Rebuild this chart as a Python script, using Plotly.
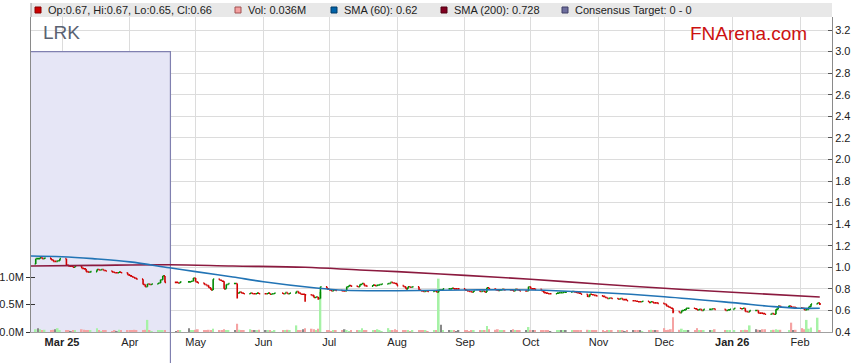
import pandas as pd
import plotly.graph_objects as go

# ---------------- data ----------------
first_open = 1.03
closes = [
    1.08, 1.08, 1.09, 1.08, 1.085,      # Feb 17
    1.07, 1.055, 1.055, 1.06, 1.08,     # Feb 24
    1.02, 1.01, 1.01, 1.00, 1.01,       # Mar 3
    0.99, 0.985, 0.96, 0.955, 0.96,     # Mar 10
    0.98, 0.975, 0.98, 0.97, 0.965,     # Mar 17
    0.955, 0.95, 0.95, 0.955, 0.95,     # Mar 24
    0.93, 0.92, 0.91, 0.90, 0.89,       # Mar 31
    0.84, 0.82, 0.845, 0.84, 0.845,     # Apr 7
    0.855, 0.885, 0.92, 0.86,           # Apr 14
    0.86, 0.855, 0.865,                 # Apr 21
    0.865, 0.87, 0.90, 0.865, 0.855,    # Apr 28
    0.84, 0.83, 0.81, 0.79, 0.89,       # May 5
    0.88, 0.87, 0.80, 0.84, 0.85,       # May 12
    0.85, 0.76, 0.77, 0.76, 0.755,      # May 19
    0.76, 0.755, 0.755, 0.76, 0.755,    # May 26
    0.755, 0.76, 0.75, 0.755, 0.76,     # Jun 2
    0.755, 0.765, 0.755, 0.76,          # Jun 9
    0.775, 0.76, 0.75, 0.75, 0.745,     # Jun 16
    0.74, 0.72, 0.725, 0.71, 0.82,      # Jun 23
    0.80, 0.79, 0.78, 0.79, 0.785,      # Jun 30
    0.78, 0.78, 0.82, 0.83, 0.825,      # Jul 7
    0.82, 0.84, 0.85, 0.83, 0.825,      # Jul 14
    0.835, 0.83, 0.835, 0.84, 0.845,    # Jul 21
    0.85, 0.86, 0.855, 0.85, 0.83,      # Jul 28
    0.82, 0.80, 0.82, 0.815, 0.82,      # Aug 4
    0.79, 0.78, 0.775, 0.78, 0.775,     # Aug 11
    0.78, 0.77, 0.79, 0.79, 0.80,       # Aug 18
    0.80, 0.805, 0.80, 0.80, 0.80,      # Aug 25
    0.79, 0.78, 0.775, 0.77, 0.78,      # Sep 1
    0.775, 0.78, 0.77, 0.81, 0.80,      # Sep 8
    0.79, 0.785, 0.79, 0.795, 0.79,     # Sep 15
    0.79, 0.78, 0.795, 0.79, 0.78,      # Sep 22
    0.78, 0.82, 0.80, 0.80, 0.795,      # Sep 29
    0.78, 0.765, 0.76, 0.755, 0.755,    # Oct 6
    0.76, 0.765, 0.765, 0.77, 0.77,     # Oct 13
    0.775, 0.77, 0.765, 0.76, 0.75,     # Oct 20
    0.73, 0.75, 0.745, 0.74, 0.735,     # Oct 27
    0.73, 0.72, 0.71, 0.715, 0.71,      # Nov 3
    0.705, 0.71, 0.70, 0.70, 0.69,      # Nov 10
    0.69, 0.685, 0.68, 0.68, 0.685,     # Nov 17
    0.675, 0.68, 0.67, 0.67, 0.665,     # Nov 24
    0.66, 0.64, 0.63, 0.62, 0.59,       # Dec 1
    0.58, 0.60, 0.605, 0.62, 0.62,      # Dec 8
    0.615, 0.605, 0.61, 0.60, 0.61,     # Dec 15
    0.61, 0.615, 0.61,                  # Dec 22
    0.60, 0.605, 0.61, 0.62,            # Dec 29
    0.615, 0.62, 0.59, 0.585, 0.60,     # Jan 5
    0.60, 0.575, 0.575, 0.57, 0.565,    # Jan 12
    0.57, 0.565, 0.61, 0.64, 0.635,     # Jan 19
    0.64, 0.63, 0.63, 0.625,            # Jan 26
    0.62, 0.605, 0.61, 0.635, 0.66,     # Feb 2
    0.67, 0.66,                         # Feb 9
]
volumes_m = [
    .05, .07, .05, .03, .04,
    .03, .04, .05, .07, .03,
    .02, .02, .015, .02, .02,
    .05, .04, .03, .02, .02,
    .07, .02, .015, .02, .02,
    .015, .02, .015, .04, .02,
    .02, .03, .02, .04, .035,
    .03, .04, .22, .02, .015,
    .02, .03, .035, .02,
    .015, .02, .02,
    .07, .02, .03, .04, .05,
    .03, .02, .04, .02, .06,
    .03, .02, .05, .02, .03,
    .02, .15, .04, .03, .02,
    .05, .02, .03, .02, .04,
    .02, .03, .02, .015, .02,
    .02, .03, .04, .02,
    .12, .03, .02, .05, .07,
    .06, .05, .03, .06, .73,
    .03, .02, .015, .02, .02,
    .02, .05, .02, .015, .02,
    .02, .02, .07, .02, .02,
    .02, .03, .05, .02, .015,
    .07, .03, .02, .05, .02,
    .02, .02, .02, .015, .02,
    .03, .03, .02, .02, .015,
    .02, .02, .97, .13, .02,
    .03, .02, .02, .015, .02,
    .02, .02, .015, .02, .02,
    .03, .02, .02, .11, .05,
    .04, .05, .03, .02, .02,
    .02, .05, .02, .02, .03,
    .02, .09, .02, .02, .02,
    .02, .03, .02, .02, .015,
    .03, .02, .02, .02, .03,
    .03, .02, .02, .02, .03,
    .04, .03, .02, .02, .02,
    .02, .015, .02, .03, .02,
    .02, .02, .02, .015, .02,
    .02, .03, .02, .02, .015,
    .03, .04, .02, .02, .02,
    .07, .03, .04, .05, .27,
    .04, .06, .03, .02, .02,
    .02, .07, .02, .02, .03,
    .02, .03, .05,
    .02, .03, .02, .02,
    .02, .03, .04, .03, .12,
    .05, .04, .03, .05, .05,
    .03, .04, .05, .04, .04,
    .03, .17, .03, .04,
    .07, .05, .22, .06, .08,
    .26, .036,
]
holidays = ["2025-04-18", "2025-04-21", "2025-04-25", "2025-06-09",
            "2025-12-25", "2025-12-26", "2026-01-01", "2026-01-26"]
wick_lows = {"2025-05-20": 0.71, "2025-06-20": 0.68, "2025-06-26": 0.70,
             "2025-10-27": 0.725, "2025-12-05": 0.575, "2026-02-10": 0.65}

sma60_dates = ["2025-02-14", "2025-03-01", "2025-03-15", "2025-04-01", "2025-04-19",
               "2025-05-01", "2025-05-18", "2025-06-01", "2025-06-24", "2025-07-08",
               "2025-08-01", "2025-09-01", "2025-10-01", "2025-11-01", "2025-12-01",
               "2026-01-01", "2026-01-20", "2026-02-01", "2026-02-10"]
sma60 = [1.105, 1.098, 1.08, 1.05, 0.995, 0.96, 0.91, 0.866, 0.81, 0.787,
         0.783, 0.79, 0.79, 0.766, 0.727, 0.672, 0.635, 0.62, 0.62]

sma200_dates = ["2025-02-14", "2025-03-15", "2025-04-19", "2025-05-18", "2025-06-20",
                "2025-07-15", "2025-08-01", "2025-09-01", "2025-10-01", "2025-11-01",
                "2025-12-01", "2026-01-01", "2026-02-10"]
sma200 = [1.012, 1.018, 1.024, 1.012, 1.0, 0.975, 0.96, 0.925, 0.889, 0.845,
          0.805, 0.768, 0.725]

consensus_x = ["2025-02-14 20:00", "2025-04-19 12:00", "2025-04-19 12:00"]
consensus_y = [3.0, 3.0, 0.0]

month_ticks = ["2025-03-01", "2025-04-01", "2025-05-01", "2025-06-01", "2025-07-01",
               "2025-08-01", "2025-09-01", "2025-10-01", "2025-11-01", "2025-12-01",
               "2026-01-01", "2026-02-01"]
month_labels = ["<b>Mar 25</b>", "Apr", "May", "Jun", "Jul", "Aug", "Sep", "Oct",
                "Nov", "Dec", "<b>Jan 26</b>", "Feb"]
price_ticks = [round(0.4 + 0.2 * i, 1) for i in range(15)]
vol_ticks = [0, 0.5e6, 1.0e6]
vol_labels = ["0.0M", "0.5M", "1.0M"]

legend_items = [
    ("Op:0.67, Hi:0.67, Lo:0.65, Cl:0.66", "#CC0000", "#880000", 47),
    ("Vol: 0.036M", "#F4A0A0", "#A05050", 247),
    ("SMA (60): 0.62", "#0062A8", "#003A66", 343),
    ("SMA (200): 0.728", "#800020", "#500010", 453),
    ("Consensus Target: 0 - 0", "#6E6E9E", "#3E3E66", 574),
]

# ---------------- build ----------------
dates = [d for d in pd.bdate_range("2025-02-17", "2026-02-10")
         if d.strftime("%Y-%m-%d") not in holidays]
n = min(len(dates), len(closes), len(volumes_m))
dates = dates[:n]
closes = closes[:n]
volumes = [v * 1e6 for v in volumes_m[:n]]
opens = [first_open] + closes[:-1]
highs = [max(o, c) for o, c in zip(opens, closes)]
lows = []
for d, o, c in zip(dates, opens, closes):
    lows.append(wick_lows.get(d.strftime("%Y-%m-%d"), min(o, c)))

vol_colors = []
for o, c in zip(opens, closes):
    if c > o + 1e-9:
        vol_colors.append("#A6F2A6")
    elif c < o - 1e-9:
        vol_colors.append("#F5A3A3")
    else:
        vol_colors.append("#888888")

H_PLOT = 315.0
PRICE_RANGE = [0.4, 0.4 + H_PLOT * 0.2 / 21.57]
VOL_RANGE = [0, H_PLOT / 55.0 * 1e6]

fig = go.Figure()
# main price axis (y): consensus band under everything
fig.add_trace(go.Scatter(x=consensus_x, y=consensus_y, mode="lines", fill="tozeroy",
                         fillcolor="#E6E6F6", line=dict(color="#8080B0", width=1.2),
                         hoverinfo="skip"))
# volume (y2)
fig.add_trace(go.Bar(x=dates, y=volumes, yaxis="y2", marker_color=vol_colors,
                     marker_line_width=0, width=86400000 * 0.8, hoverinfo="skip"))
# inside tick helper (y3)
fig.add_trace(go.Scatter(x=[dates[0]], y=[0], yaxis="y3", mode="markers",
                         marker=dict(opacity=0), hoverinfo="skip"))
# price overlay (y4): candles and SMAs above the band
fig.add_trace(go.Ohlc(x=dates, open=opens, high=highs, low=lows, close=closes,
                      yaxis="y4",
                      increasing=dict(line=dict(color="#008A00", width=1.6)),
                      decreasing=dict(line=dict(color="#D00000", width=1.6)),
                      tickwidth=0.5, hoverinfo="skip"))
fig.add_trace(go.Scatter(x=sma200_dates, y=sma200, mode="lines", yaxis="y4",
                         line=dict(color="#8B1A3F", width=1.6, shape="spline"),
                         hoverinfo="skip"))
fig.add_trace(go.Scatter(x=sma60_dates, y=sma60, mode="lines", yaxis="y4",
                         line=dict(color="#2274B5", width=1.6, shape="spline"),
                         hoverinfo="skip"))


def py(pix):
    return (332 - pix) / H_PLOT


def px(pix):
    return (pix - 31) / 801.0


shapes = [
    dict(type="rect", xref="paper", yref="paper", x0=0, x1=1, y0=py(17), y1=py(3),
         fillcolor="#E8E8E8", line=dict(width=0), layer="above"),
    dict(type="line", xref="paper", yref="paper", x0=0, x1=0, y0=py(17), y1=py(3),
         line=dict(color="#999999", width=1)),
    dict(type="line", xref="x", yref="paper", x0="2025-04-19 12:00", x1="2025-04-19 12:00",
         y0=py(363), y1=0, line=dict(color="#8080B0", width=1.2)),
]
annotations = [
    dict(text="LRK", xref="paper", yref="paper", x=px(41), y=py(32), xanchor="left",
         yanchor="middle", showarrow=False,
         font=dict(size=19, color="#5A6272", family="Liberation Sans, Arial, sans-serif")),
    dict(text="FNArena.com", xref="paper", yref="paper", x=px(809), y=py(33),
         xanchor="right", yanchor="middle", showarrow=False,
         font=dict(size=19, color="#CC1111", family="Liberation Sans, Arial, sans-serif")),
]
for label, fill, edge, tx in legend_items:
    shapes.append(dict(type="rect", xref="paper", yref="paper", x0=px(tx - 12),
                       x1=px(tx - 6), y0=py(13), y1=py(7), fillcolor=fill,
                       line=dict(color=edge, width=1), layer="above"))
    annotations.append(dict(text=label, xref="paper", yref="paper", x=px(tx - 1),
                            y=py(10), xanchor="left", yanchor="middle", showarrow=False,
                            font=dict(size=11, color="#222222")))

fig.update_layout(
    width=859, height=363,
    margin=dict(l=31, r=27, t=17, b=31, autoexpand=False),
    paper_bgcolor="white", plot_bgcolor="white",
    showlegend=False,
    font=dict(family="Liberation Sans, Arial, sans-serif", size=11, color="#222222"),
    shapes=shapes, annotations=annotations,
    xaxis=dict(type="date", range=["2025-02-14 20:00", "2026-02-15 14:00"],
               tickvals=month_ticks, ticktext=month_labels, ticks="",
               showgrid=True, gridcolor="#DCDCDC", gridwidth=1,
               showline=True, linecolor="#A0A0A0", linewidth=1, automargin=False,
               rangeslider=dict(visible=False), tickfont=dict(size=11, color="#222")),
    yaxis=dict(side="right", range=PRICE_RANGE,
               tickvals=price_ticks, ticktext=[f"{v:.1f}" for v in price_ticks],
               ticks="inside", ticklen=4, tickcolor="#555555", automargin=False,
               showgrid=True, gridcolor="#DCDCDC", gridwidth=1, zeroline=False,
               showline=True, linecolor="#8A8A8A", linewidth=1,
               tickfont=dict(size=11, color="#222")),
    yaxis2=dict(overlaying="y", side="left", range=VOL_RANGE,
                tickvals=vol_ticks, ticktext=vol_labels, ticks="outside", ticklen=4,
                tickcolor="#333333", showgrid=False, zeroline=False, automargin=False,
                showline=True, linecolor="#8A8A8A", linewidth=1,
                tickfont=dict(size=11, color="#222")),
    yaxis3=dict(overlaying="y", side="left", range=VOL_RANGE,
                tickvals=vol_ticks, ticks="inside", ticklen=4, tickcolor="#333333",
                showticklabels=False, showgrid=False, zeroline=False, showline=False,
                automargin=False),
    yaxis4=dict(overlaying="y", side="right", range=PRICE_RANGE, visible=False,
                showgrid=False, zeroline=False, automargin=False),
)

fig.write_html("out.html", config={"displayModeBar": False},
               post_script="document.body.style.margin='0';")
